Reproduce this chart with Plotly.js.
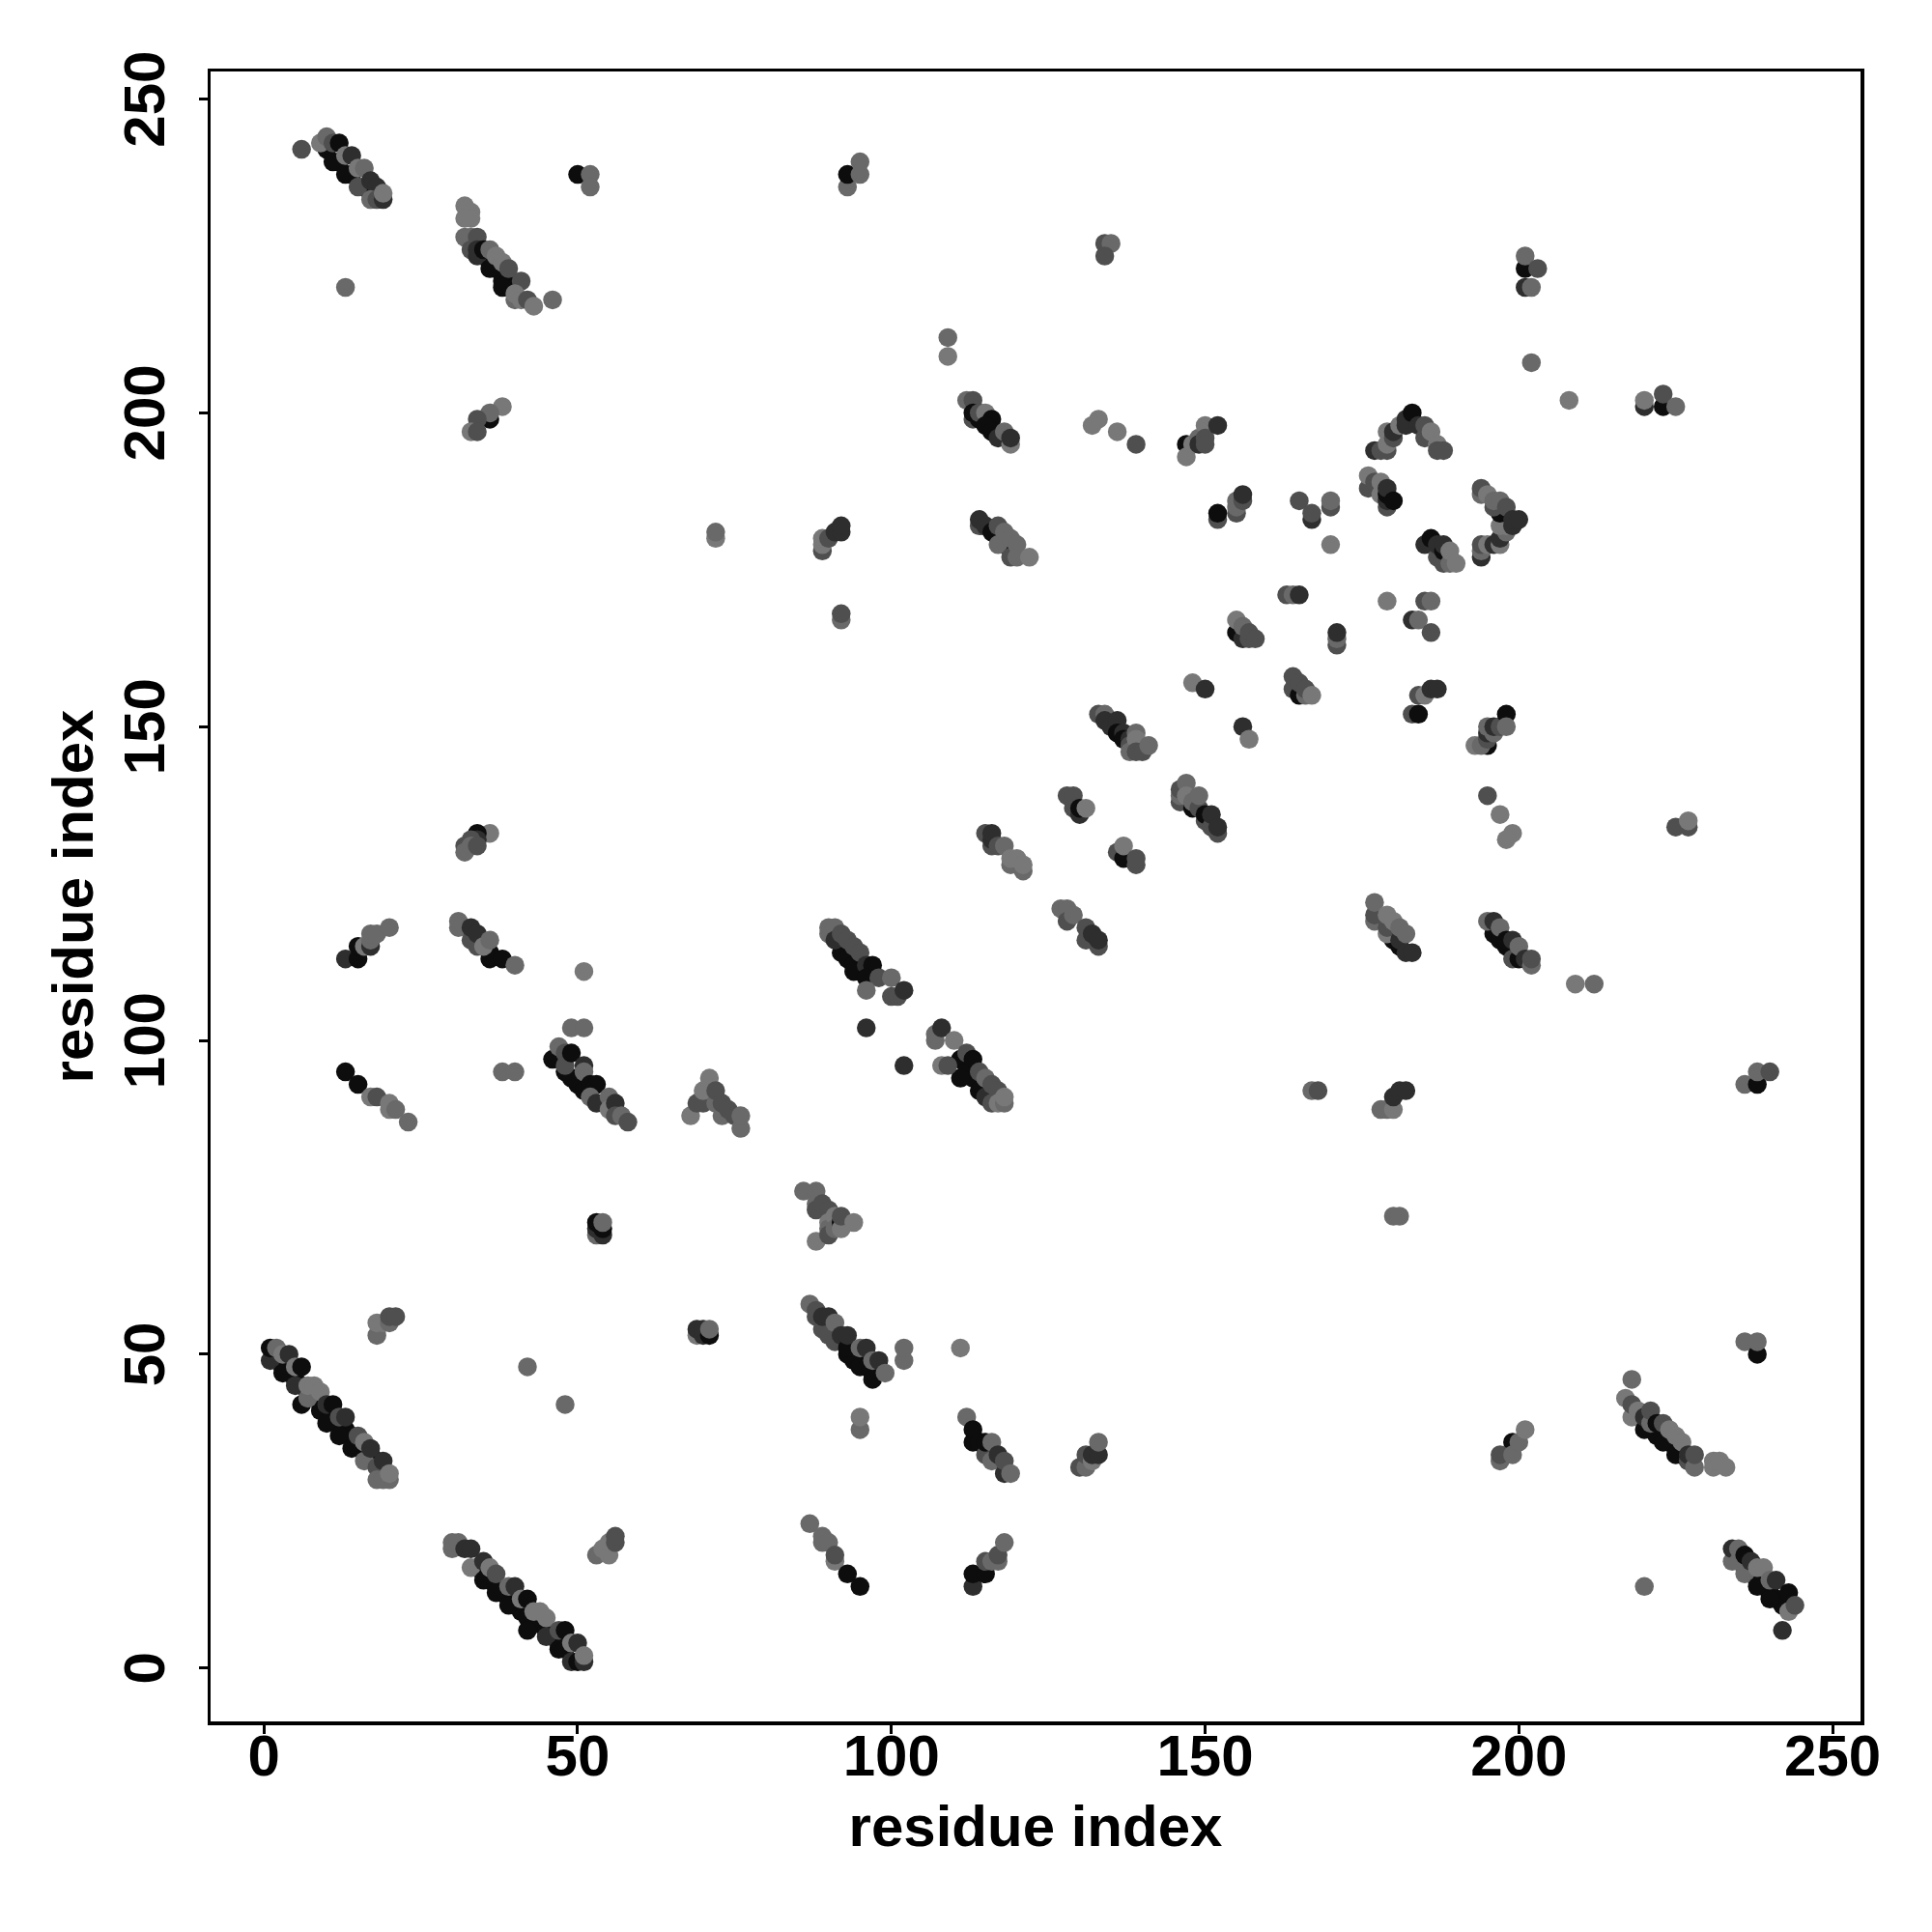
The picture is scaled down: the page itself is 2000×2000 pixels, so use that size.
<!DOCTYPE html>
<html>
<head>
<meta charset="utf-8">
<script src="https://cdn.plot.ly/plotly-3.0.1.min.js"></script>
<style>html,body{margin:0;padding:0;background:#fff}</style>
</head>
<body>
<div id="chart" style="width:2000px;height:2000px"></div>
<script>
// estimated score levels read from the grey of each dot
const K=.05, D=.18, M=.31, G=.41, L=.47;

const tickValues=[0,50,100,150,200,250];
const axisLabel="residue index";

// [residue x, residue y, level]
const bandTopA=[[10,242,K],[12,240,K],[14,238,K],[16,236,K],[17,235,K],[18,235,K],
[6,242,M],[9,243,L],[10,244,G],[11,240,K],[11,243,M],[12,243,K],[13,238,K],[13,241,L],[14,241,D],[15,236,M],[15,239,L],[16,239,G],[17,237,D],[18,236,D],[17,234,G],[18,234,M],[19,234,D],[19,235,L],[13,220,G]];
const bandTopB=[[35,225,K],[36,224,K],[37,223,K],[38,222,K],[38,221,K],[39,221,K],[40,220,K],
[32,233,L],[33,232,L],[33,231,L],[32,231,L],[32,228,G],[33,228,G],[33,226,M],[34,228,M],[34,226,D],[34,225,D],[35,226,K],[36,223,K],[38,220,K],[36,226,G],[37,225,L],[38,224,L],[39,223,M],[41,221,M],[40,218,G],[40,219,L],[41,218,L],[42,218,M],[43,217,L],[46,218,G]];
const smallTop=[[36,199,K],[38,201,L],[36,200,G],[34,199,M],[33,197,L],[34,197,M],
[50,238,K],[52,238,G],[52,236,G],[93,236,G],[93,238,K],[95,238,G],[95,240,G],
[134,227,M],[135,227,G],[134,225,M],[109,212,G],[109,209,L],
[133,199,L],[132,198,L],[136,197,L],[139,195,M]];
const bandD=[[112,202,G],[113,202,M],[113,199,M],[113,200,K],[114,199,K],[114,200,M],[115,200,L],[116,199,K],[115,198,K],[116,197,K],[117,196,D],[118,197,G],[119,195,L],[119,196,D]];
const clusterE=[[147,195,K],[147,193,L],[148,195,L],[149,196,G],[149,195,D],[150,198,L],[150,196,M],[150,195,M],[152,198,D]];
const peakF=[[177,194,D],[178,194,M],[179,194,M],[179,195,L],[179,197,L],[180,196,M],[180,197,D],[181,198,L],[182,198,D],[182,199,D],[183,200,K],[184,198,D],[185,198,M],[185,196,M],[186,197,L],[187,195,L],[187,194,M],[188,194,M]];
const clusterG=[[152,183,M],[152,184,K],[155,184,M],[155,185,G],[155,186,G],[156,186,M],[156,187,D],
[165,186,M],[167,183,D],[167,184,M],[170,185,M],[170,186,G],[170,179,L],
[176,188,M],[176,190,L],[177,189,M],[178,187,L],[178,189,L],[179,185,M],[179,186,D],[179,187,K],[179,188,D],[180,186,K]];
const ringH=[[194,177,D],[194,178,G],[194,179,M],[195,179,L],[196,179,D],[197,179,L],[197,180,D],[198,181,G],[197,182,L],[198,182,L],[199,182,D],[197,184,K],[194,187,G],[194,188,M],[195,187,L],[196,185,M],[196,186,G],[197,186,G],[198,185,M],[199,183,D],[200,183,D],
[185,179,D],[186,180,K],[187,177,M],[187,179,D],[188,176,M],[188,178,K],[188,179,D],[189,176,G],[189,178,L],[190,176,L]];
const clusterI=[[163,171,M],[164,171,G],[165,171,D],[179,170,L],[185,170,M],[186,170,G],[183,167,D],[184,167,G],[186,165,M],
[155,165,K],[155,167,L],[156,164,D],[156,166,G],[157,164,M],[157,165,M],[158,164,M],
[171,163,M],[171,164,G],[171,165,D],
[164,156,M],[164,158,M],[165,155,K],[165,157,M],[166,155,G],[166,156,M],[167,155,L],
[184,155,M],[185,155,L],[186,156,D],[187,156,D],[183,152,M],[184,152,K],[148,157,L],[150,156,D],[156,150,D],[157,148,L]];
const clusterJ=[[195,147,K],[193,147,L],[194,147,G],[195,148,M],[195,149,D],[195,150,G],[196,149,G],[196,150,D],[197,150,M],[198,152,K],[198,150,G],
[195,139,M],[197,136,L],[199,133,L],[198,132,L],[225,134,M],[227,134,M],[227,135,L]];
const topRight=[[208,202,L],[220,201,D],[220,202,L],[223,201,K],[223,203,M],[225,201,G],[202,208,G],[201,223,K],[201,225,G],[203,223,M],[201,220,D],[202,220,G]];
const bandK=[[133,152,M],[134,152,G],[134,151,D],[135,150,D],[136,151,D],[136,149,K],[137,149,D],[137,148,K],[138,148,D],[138,147,M],[138,146,G],[139,149,G],[139,148,L],[139,146,M],[140,146,M],[141,147,G]];
const bandL=[[146,138,M],[146,139,G],[146,140,M],[147,141,G],[147,139,L],[148,137,K],[148,138,G],[149,137,M],[149,139,G],[150,135,M],[150,136,K],[151,134,M],[151,136,D],[152,133,M],[152,134,D]];
const clusterM=[[128,139,M],[129,139,M],[129,137,M],[130,136,D],[130,137,K],[131,137,L],
[127,121,G],[128,121,G],[128,119,M],[129,120,G],[131,116,M],[131,118,M],[132,117,D],[133,115,M],[133,116,D],
[115,133,M],[116,131,M],[116,132,D],[116,133,D],[117,131,M],[118,131,G],[119,128,G],[119,129,L],[120,129,L],[121,127,G],[121,128,L],
[136,130,M],[137,129,K],[137,131,L],[139,128,M],[139,129,M]];
const bandN=[[180,116,K],[181,115,K],[177,119,G],[177,120,M],[177,122,G],[179,117,L],[179,118,M],[179,120,L],[180,119,L],[181,116,D],[181,118,G],[182,114,D],[182,117,G],[183,114,D],
[196,117,K],[197,116,K],[198,115,K],[195,119,G],[196,119,D],[197,118,G],[198,116,K],[199,113,M],[199,116,D],[200,113,K],[200,115,G],[201,113,D],[202,112,G],[202,113,M],[209,109,L],[212,109,G]];
const clusterO=[[167,92,G],[168,92,M],[178,89,G],[179,89,G],[180,89,L],[180,91,D],[181,92,D],[182,92,D],[180,72,G],[181,72,G],
[236,93,G],[238,93,K],[238,95,G],[240,95,M]];
const midLeft=[[36,133,L],[34,133,K],[34,132,D],[33,132,M],[32,131,M],[32,130,G],[33,131,G],[34,131,M],
[13,113,D],[15,113,K],[15,115,K],[16,115,L],[17,115,D],[17,116,G],[17,117,G],[18,117,G],[20,118,G],
[36,114,K],[36,113,K],[38,113,K],[31,118,G],[31,119,G],[33,116,M],[33,118,D],[34,115,M],[34,117,D],[35,115,L],[36,116,G],[40,112,G],
[51,111,L],[49,102,G],[51,102,G],[13,95,K],[15,93,K],[17,91,L],[18,91,M],[20,89,L],[20,90,L],[21,89,G],[23,87,G],[38,95,G],[40,95,G]];
const bandP=[[46,97,K],[48,95,K],[50,93,K],[49,94,K],[51,92,K],[47,99,G],[48,98,M],[48,96,M],[49,98,K],[51,96,D],[51,95,G],[52,93,K],[53,93,K],[52,91,G],[53,90,D],[55,91,G],[55,89,L],[56,90,D],[56,88,M],[57,88,G],[58,87,M]];
const clusterQ=[[70,91,K],[68,88,L],[69,90,M],[70,90,M],[70,92,L],[71,94,L],[72,90,G],[72,92,M],[73,88,G],[73,90,M],[74,89,M],[75,88,M],[76,86,G],[76,88,G],
[53,69,G],[53,70,D],[53,71,K],[54,69,D],[54,70,K],[54,71,G]];
const clusterR=[[86,76,G],[88,76,G],[88,74,G],[88,73,M],[88,68,L],[89,74,M],[90,73,M],[90,71,L],[90,70,G],[90,69,M],[91,72,L],[91,70,G],[92,71,K],[92,70,L],[92,72,M],[94,71,L]];
const bandS=[[92,114,K],[93,113,K],[94,112,K],[95,111,K],[96,111,K],[90,117,G],[90,118,G],[91,118,G],[91,116,D],[92,117,M],[93,116,M],[94,115,M],[95,114,M],[94,111,K],[96,112,D],[97,112,K],[96,110,K],[98,110,M],[100,110,G],[96,108,G],[100,107,M],[101,107,M],[102,108,D],[96,102,D],[102,96,D]];
const bandT=[[111,97,K],[113,95,K],[112,95,K],[113,94,K],[114,92,K],[111,94,K],[107,100,G],[107,101,G],[108,102,D],[110,100,L],[108,96,L],[109,96,M],[112,98,M],[113,97,K],[114,95,M],[115,94,G],[115,91,D],[116,93,M],[116,90,M],[117,92,M],[117,90,L],[118,90,G],[118,91,L]];
const bandU=[[92,52,K],[94,50,K],[94,49,K],[96,48,K],[96,49,K],[97,47,K],[87,58,G],[88,56,M],[88,57,M],[89,54,M],[89,56,D],[90,53,M],[90,56,D],[91,52,M],[91,55,G],[92,53,D],[93,50,K],[93,51,K],[93,53,D],[95,48,K],[95,51,G],[96,51,D],[97,46,K],[97,49,G],[98,49,D],[99,47,G],
[102,49,G],[102,51,G],[111,51,L],[95,38,G],[95,40,L]];
const clusterV=[[112,40,G],[113,36,K],[113,38,K],[114,36,K],[115,34,M],[115,36,K],[116,33,G],[116,36,G],[117,34,D],[118,31,D],[118,33,M],[119,31,G],
[130,32,M],[131,32,G],[131,34,M],[132,33,L],[132,34,D],[133,34,D],[133,36,G]];
const bandW=[[2,49,K],[3,48,K],[4,47,K],[5,46,K],[6,45,K],[7,44,K],[8,43,K],[9,41,K],[10,41,K],[11,40,K],[12,39,K],[13,38,K],[14,37,K],[15,36,K],[16,35,K],[17,34,K],[18,33,K],
[1,49,D],[1,51,K],[2,51,G],[3,47,K],[3,50,L],[4,50,D],[5,45,D],[5,48,L],[6,42,K],[6,48,K],[7,43,G],[7,45,L],[8,45,L],[9,44,L],[10,39,K],[10,42,D],[11,42,K],[12,37,K],[12,40,M],[13,40,D],[14,35,K],[15,37,M],[16,33,G],[16,36,L],[17,35,D],[18,32,M],[18,30,G],[19,30,G],[19,33,D],[20,30,G],[20,31,L]];
const bandX=[[34,16,K],[35,15,K],[36,14,K],[37,13,K],[38,12,K],[39,11,K],[40,10,K],[41,9,K],[42,8,K],[43,7,K],[44,7,K],[45,6,K],[46,5,K],[47,4,K],[48,3,K],
[30,19,G],[30,20,G],[31,20,G],[32,19,D],[33,16,L],[33,19,D],[35,14,K],[35,17,D],[36,16,L],[37,12,K],[37,15,M],[39,10,K],[39,13,G],[40,13,D],[41,11,L],[42,6,K],[42,11,K],[43,9,L],[44,9,L],[45,5,D],[45,8,L],[47,3,K],[47,6,M],[48,6,K],[49,1,D],[49,4,L],[50,1,K],[50,4,D],[51,1,D],[51,2,L]];
const clusterY=[[18,53,G],[18,55,L],[19,55,L],[20,55,G],[20,56,M],[21,56,M],[42,48,G],[48,42,G],
[69,53,L],[69,54,D],[70,53,D],[70,54,D],[71,53,K],[71,54,G],
[53,18,G],[54,19,L],[55,18,L],[55,20,L],[56,20,M],[56,21,M],
[87,23,G],[89,20,G],[89,21,G],[90,20,G],[91,17,L],[91,18,M],[93,15,K],[95,13,K],
[113,13,D],[113,15,K],[115,15,K],[115,17,M],[116,17,G],[117,17,G],[117,18,M],[118,20,G]];
const bandZ=[[221,38,K],[222,37,K],[223,37,K],[224,36,K],[225,35,K],[226,34,K],[227,33,K],
[218,46,G],[217,43,L],[218,40,L],[218,42,M],[219,41,L],[220,38,K],[220,40,D],[221,39,G],[221,41,M],[222,39,K],[223,36,K],[223,39,M],[224,38,L],[225,34,K],[225,37,L],[226,36,L],[227,33,M],[227,34,D],[228,32,G],[228,34,M],[231,32,L],[231,33,L],[232,33,L],[233,32,L],
[199,36,K],[197,33,G],[197,34,M],[199,34,G],[200,36,G],[201,38,L],[236,52,G],[238,50,K],[238,52,G],[220,13,G]];
const bandEnd=[[236,16,K],[237,15,K],[238,14,K],[239,13,K],[240,12,K],[241,11,K],[242,10,K],
[234,17,G],[234,19,D],[235,17,G],[235,19,G],[236,15,G],[236,18,K],[237,17,D],[238,13,K],[238,16,L],[239,16,L],[240,11,K],[240,14,G],[241,14,D],[242,6,D],[243,9,L],[243,12,K],[244,10,M]];
const clusterAA=[[89,178,M],[89,179,L],[89,180,L],[90,180,M],[91,181,D],[92,181,D],[92,182,D],[92,167,G],[92,168,M],[72,180,L],[72,181,G],
[114,182,M],[114,183,D],[115,182,D],[116,181,K],[117,180,K],[118,179,K],[117,179,G],[117,182,M],[118,181,G],[119,177,M],[119,180,G],[120,177,G],[120,179,G],[122,177,L]];

const allGroups=[bandTopA,bandTopB,smallTop,bandD,clusterE,peakF,clusterG,ringH,clusterI,clusterJ,topRight,bandK,bandL,clusterM,bandN,clusterO,midLeft,bandP,clusterQ,clusterR,bandS,bandT,bandU,clusterV,bandW,bandX,clusterY,bandZ,bandEnd,clusterAA];
const points=allGroups.flat();
const grey=v=>{const c=Math.round(255*v);return `rgb(${c},${c},${c})`;};

const fontFamily='"Liberation Sans", Arial, sans-serif';
const textFont={family:fontFamily,size:60,color:'#000',weight:700};
const axisCommon={
  showgrid:false,zeroline:false,showline:true,mirror:true,
  linecolor:'#000',linewidth:3.5,ticks:'outside',ticklen:9,tickwidth:3,tickcolor:'#000',
  tickmode:'array',tickvals:tickValues,ticktext:tickValues.map(String),tickfont:textFont
};
Plotly.newPlot('chart',[{
  type:'scatter',mode:'markers',
  x:points.map(p=>p[0]),y:points.map(p=>p[1]),
  marker:{size:19.5,color:points.map(p=>grey(p[2])),line:{width:0},opacity:1},
  hoverinfo:'x+y'
}],{
  width:2000,height:2000,showlegend:false,
  paper_bgcolor:'#fff',plot_bgcolor:'#fff',
  margin:{l:218,r:74,t:74,b:218,pad:0},
  xaxis:Object.assign({},axisCommon,{range:[-8.5,254.45],ticklabelstandoff:-29,title:{text:axisLabel,font:textFont,standoff:20}}),
  yaxis:Object.assign({},axisCommon,{range:[-8.5,254.4],ticklabelstandoff:12,tickangle:-90,title:{text:axisLabel,font:textFont,standoff:0}})
},{staticPlot:true,displayModeBar:false}).then(()=>{
  // rotated y labels sit a few pixels high: nudge them onto their ticks
  document.querySelectorAll('#chart .ytick text').forEach(t=>{
    t.setAttribute('transform','translate(0,9) '+(t.getAttribute('transform')||''));
  });
});
</script>
</body>
</html>
